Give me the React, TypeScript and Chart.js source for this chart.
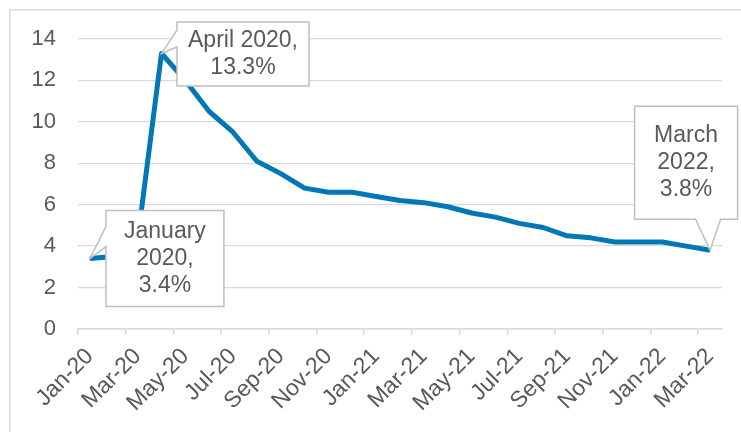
import React, { useEffect, useRef } from 'react';
import { Chart, registerables } from 'chart.js';

Chart.register(...registerables);

const categories = [
  'Jan-20', 'Feb-20', 'Mar-20', 'Apr-20', 'May-20', 'Jun-20', 'Jul-20', 'Aug-20', 'Sep-20',
  'Oct-20', 'Nov-20', 'Dec-20', 'Jan-21', 'Feb-21', 'Mar-21', 'Apr-21', 'May-21', 'Jun-21',
  'Jul-21', 'Aug-21', 'Sep-21', 'Oct-21', 'Nov-21', 'Dec-21', 'Jan-22', 'Feb-22', 'Mar-22',
];

const unemploymentRate = [
  3.4, 3.5, 4.3, 13.3, 12.0, 10.5, 9.5, 8.1, 7.5,
  6.8, 6.6, 6.6, 6.4, 6.2, 6.1, 5.9, 5.6, 5.4,
  5.1, 4.9, 4.5, 4.4, 4.2, 4.2, 4.2, 4.0, 3.8,
];

const yMin = 0;
const yMax = 14;
const yStep = 2;

const calloutIndices = [0, 3, 26];
const calloutTexts = [
  ['January', '2020,', '3.4%'],
  ['April 2020,', '13.3%'],
  ['March', '2022,', '3.8%'],
];

const TEXT_COLOR = '#595959';
const GRID_COLOR = '#d9d9d9';
const LINE_COLOR = '#0077b6';
const FONT_FAMILY = '"Liberation Sans", Arial, sans-serif';

// Callout box geometry relative to the anchored data point
type Geo = { dx: number; dy: number; w: number; h: number; side: 'left' | 'bottom'; b0: number; b1: number };
const calloutGeometry: Geo[] = [
  { dx: 16, dy: -48, w: 118, h: 96, side: 'left', b0: 16, b1: 36 },
  { dx: 15.5, dy: -31.5, w: 132, h: 64, side: 'left', b0: 8, b1: 25 },
  { dx: -75.5, dy: -144, w: 103, h: 113, side: 'bottom', b0: 61, b1: 86 },
];

const framePlugin = {
  id: 'frame',
  beforeDraw(chart: any) {
    const ctx = chart.ctx;
    ctx.save();
    ctx.strokeStyle = GRID_COLOR;
    ctx.lineWidth = 1.5;
    ctx.strokeRect(9.75, 9.75, chart.width + 50, chart.height + 50);
    ctx.restore();
  },
};

const calloutPlugin = {
  id: 'callouts',
  afterDatasetsDraw(chart: any) {
    const ctx = chart.ctx;
    const meta = chart.getDatasetMeta(0);
    calloutIndices.forEach((idx, k) => {
      const pt = meta.data[idx];
      if (!pt) return;
      const px = pt.x;
      const py = pt.y;
      const g = calloutGeometry[k];
      const L = px + g.dx;
      const T = py + g.dy;
      const R = L + g.w;
      const B = T + g.h;
      ctx.save();
      ctx.beginPath();
      if (g.side === 'left') {
        ctx.moveTo(L, T);
        ctx.lineTo(R, T);
        ctx.lineTo(R, B);
        ctx.lineTo(L, B);
        ctx.lineTo(L, T + g.b1);
        ctx.lineTo(px, py);
        ctx.lineTo(L, T + g.b0);
        ctx.closePath();
      } else {
        ctx.moveTo(L, T);
        ctx.lineTo(R, T);
        ctx.lineTo(R, B);
        ctx.lineTo(L + g.b1, B);
        ctx.lineTo(px, py);
        ctx.lineTo(L + g.b0, B);
        ctx.lineTo(L, B);
        ctx.closePath();
      }
      ctx.fillStyle = '#ffffff';
      ctx.fill();
      ctx.strokeStyle = '#bfbfbf';
      ctx.lineWidth = 1.5;
      ctx.lineJoin = 'miter';
      ctx.stroke();

      const lines = calloutTexts[k];
      const lh = 27;
      const cx = (L + R) / 2;
      const cy = (T + B) / 2;
      ctx.fillStyle = TEXT_COLOR;
      ctx.font = `23px ${FONT_FAMILY}`;
      ctx.textAlign = 'center';
      ctx.textBaseline = 'middle';
      lines.forEach((line, j) => {
        const y = cy + (j - (lines.length - 1) / 2) * lh;
        ctx.fillText(line, cx, y);
      });
      ctx.restore();
    });
  },
};

export default function App() {
  const canvasRef = useRef<HTMLCanvasElement | null>(null);

  useEffect(() => {
    if (!canvasRef.current) return;
    const chart = new Chart(canvasRef.current, {
      type: 'line',
      data: {
        labels: categories,
        datasets: [
          {
            label: 'Unemployment rate',
            data: unemploymentRate,
            borderColor: LINE_COLOR,
            backgroundColor: LINE_COLOR,
            borderWidth: 5,
            pointRadius: 0,
            pointHoverRadius: 0,
            tension: 0,
            borderJoinStyle: 'round',
            borderCapStyle: 'butt',
            fill: false,
          },
        ],
      },
      options: {
        responsive: true,
        maintainAspectRatio: false,
        animation: false,
        layout: { padding: { left: 0, right: 19, top: 39, bottom: 0 } },
        plugins: {
          legend: { display: false },
          tooltip: { enabled: false },
        },
        scales: {
          x: {
            type: 'category',
            offset: true,
            grid: {
              offset: true,
              drawOnChartArea: false,
              drawTicks: true,
              tickLength: 6,
              lineWidth: 1.5,
              color: (ctx: any) =>
                ctx.index !== undefined && ctx.index % 2 === 0 ? GRID_COLOR : 'rgba(0,0,0,0)',
            },
            border: { display: true, color: GRID_COLOR, width: 1.5 },
            ticks: {
              autoSkip: false,
              minRotation: 45,
              maxRotation: 45,
              color: TEXT_COLOR,
              padding: 8,
              font: { family: FONT_FAMILY, size: 23 },
              callback: (_v: any, i: number) => (i % 2 === 0 ? categories[i] : ''),
            },
            afterFit: (s: any) => {
              s.height = 103;
            },
          },
          y: {
            min: yMin,
            max: yMax,
            ticks: {
              stepSize: yStep,
              color: TEXT_COLOR,
              padding: 22,
              font: { family: FONT_FAMILY, size: 22 },
            },
            grid: { color: GRID_COLOR, lineWidth: 1.3, drawTicks: false },
            border: { display: false },
            afterFit: (s: any) => {
              s.width = 78;
            },
          },
        },
      },
      plugins: [framePlugin, calloutPlugin],
    });
    return () => chart.destroy();
  }, []);

  return (
    <div style={{ position: 'fixed', left: 0, top: 0, width: 741, height: 432, background: '#fff' }}>
      <canvas ref={canvasRef} />
    </div>
  );
}
